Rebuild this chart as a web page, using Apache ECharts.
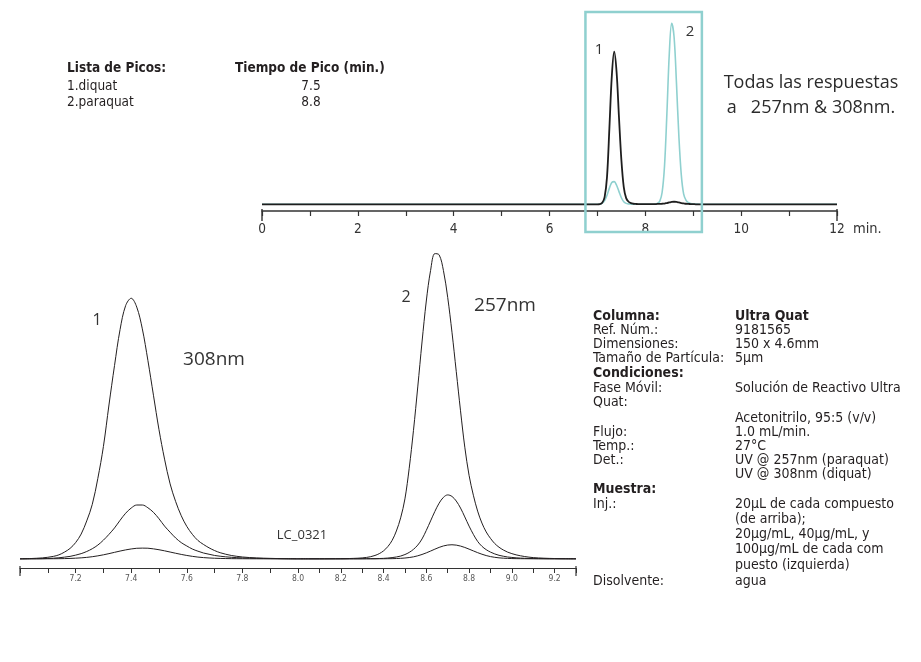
<!DOCTYPE html>
<html>
<head>
<meta charset="utf-8">
<script src="https://cdn.jsdelivr.net/npm/echarts@6.0.0/dist/echarts.min.js"></script>
<style>
  html, body { margin: 0; padding: 0; background: #ffffff; }
  #chart { width: 921px; height: 662px; }
</style>
</head>
<body>
<div id="chart"></div>
<script>
// ---------- Overview run, 0 - 12 min (two detector traces) ----------
const overviewTimes = [
  0, 1, 2, 3, 4, 5, 6, 6.5,
  7.00, 7.05, 7.10, 7.15, 7.20, 7.25, 7.30, 7.35, 7.40, 7.45,
  7.50, 7.55, 7.60, 7.65, 7.70, 7.75, 7.80, 7.85, 7.90, 7.95,
  8.00, 8.05, 8.10, 8.15, 8.20, 8.25, 8.30, 8.35, 8.40, 8.45,
  8.50, 8.55, 8.60, 8.65, 8.70, 8.75, 8.80, 8.85, 8.90, 8.95,
  9.00, 9.05, 9.10, 9.15, 9.20,
  9.5, 10, 11, 12
];
// 308 nm trace (black)
const signal308 = [
  0, 0, 0, 0, 0, 0, 0, 0,
  0, 0.1, 0.8, 4.0, 15.0, 42.0, 70.5, 84.2, 73.0, 48.0,
  24.5, 9.5, 3.4, 1.4, 0.6, 0.3, 0.2, 0.1, 0.1, 0.1,
  0.1, 0.1, 0.1, 0.1, 0.1, 0.2, 0.2, 0.3, 0.4, 0.7,
  1.0, 1.3, 1.4, 1.3, 1.0, 0.7, 0.5, 0.3, 0.2, 0.1,
  0.1, 0, 0, 0, 0,
  0, 0, 0, 0
];
// 257 nm trace (teal)
const signal257 = [
  0, 0, 0, 0, 0, 0, 0, 0,
  0, 0, 0.6, 2.0, 5.0, 8.9, 12.0, 12.5, 10.5, 7.0,
  3.6, 1.4, 0.5, 0.2, 0.1, 0, 0, 0, 0, 0,
  0, 0, 0, 0, 0.1, 0.4, 1.6, 6.5, 21.0, 50.0,
  83.0, 100, 92.3, 66.7, 37.5, 16.4, 5.6, 2.2, 0.9, 0.4,
  0.2, 0.1, 0.1, 0, 0,
  0, 0, 0, 0
];
const overviewTicks = [0, 2, 4, 6, 8, 10, 12];

// ---------- Expanded view, peak 1 (diquat, 308 nm), 7.0 - 8.0 min ----------
const peak1Times = [
  7.00, 7.04, 7.08, 7.10, 7.12, 7.14, 7.16, 7.18, 7.20, 7.22,
  7.24, 7.26, 7.28, 7.30, 7.32, 7.34, 7.36, 7.38, 7.40, 7.42,
  7.44, 7.46, 7.48, 7.50, 7.52, 7.54, 7.56, 7.58, 7.60, 7.62,
  7.64, 7.66, 7.68, 7.70, 7.72, 7.74, 7.76, 7.80, 7.85, 7.90,
  7.95, 8.00
];
const diquat100 = [
  0.0, 0.1, 0.3, 0.5, 0.8, 1.3, 2.2, 3.4, 5.3, 8.1,
  12.4, 17.8, 26.3, 36.7, 50.3, 63.2, 75.0, 82.8, 85.2, 82.3,
  75.2, 64.9, 53.5, 42.2, 32.6, 24.5, 18.7, 14.1, 10.6, 8.0,
  6.0, 4.7, 3.6, 2.7, 2.0, 1.5, 1.1, 0.6, 0.3, 0.15,
  0.05, 0.0
];
const diquat40 = [
  0, 0.02, 0.06, 0.12, 0.2, 0.35, 0.55, 0.8, 1.2, 1.7,
  2.4, 3.3, 4.5, 6.1, 8.0, 10.1, 12.6, 14.9, 16.6, 17.6,
  17.6, 16.7, 15.2, 13.1, 10.7, 8.7, 6.8, 5.3, 4.2, 3.2,
  2.5, 1.9, 1.5, 1.1, 0.85, 0.65, 0.5, 0.3, 0.15, 0.08,
  0.03, 0
];
const diquat20 = [
  0, 0, 0.01, 0.02, 0.03, 0.05, 0.08, 0.13, 0.21, 0.32,
  0.47, 0.69, 0.97, 1.31, 1.70, 2.12, 2.54, 2.92, 3.23, 3.45,
  3.5, 3.47, 3.26, 2.97, 2.62, 2.22, 1.82, 1.44, 1.10, 0.81,
  0.57, 0.40, 0.28, 0.19, 0.13, 0.09, 0.06, 0.03, 0.01, 0,
  0, 0
];

// ---------- Expanded view, peak 2 (paraquat, 257 nm), 8.0 - 9.3 min ----------
const peak2Times = [
  8.00, 8.05, 8.10, 8.15, 8.20, 8.24, 8.28, 8.30, 8.32, 8.34,
  8.36, 8.38, 8.40, 8.42, 8.44, 8.46, 8.48, 8.50, 8.52, 8.54,
  8.56, 8.58, 8.60, 8.62, 8.64, 8.66, 8.68, 8.70, 8.72, 8.74,
  8.76, 8.78, 8.80, 8.82, 8.84, 8.86, 8.88, 8.90, 8.92, 8.94,
  8.96, 8.98, 9.00, 9.02, 9.04, 9.06, 9.08, 9.10, 9.15, 9.20,
  9.25, 9.30
];
const paraquat100 = [
  0, 0, 0, 0.02, 0.05, 0.1, 0.2, 0.3, 0.45, 0.7,
  1.1, 1.7, 2.6, 4.0, 6.0, 9.1, 13.4, 19.6, 29.6, 42.0,
  56.2, 70.9, 84.3, 94.3, 99.8, 99.4, 94.3, 85.5, 74.1, 61.3,
  48.4, 36.5, 27.3, 20.8, 15.6, 11.7, 8.8, 6.7, 5.0, 3.8,
  2.9, 2.2, 1.7, 1.3, 1.0, 0.75, 0.55, 0.4, 0.2, 0.1,
  0.05, 0.02
];
const paraquat40 = [
  0, 0, 0, 0, 0, 0.01, 0.02, 0.03, 0.04, 0.05,
  0.06, 0.1, 0.15, 0.25, 0.4, 0.6, 0.9, 1.4, 2.1, 3.1,
  4.5, 6.5, 9.3, 12.4, 15.5, 18.2, 20.1, 20.9, 20.4, 18.9,
  16.6, 13.7, 10.7, 8.0, 5.7, 4.1, 3.0, 2.2, 1.6, 1.15,
  0.85, 0.6, 0.45, 0.33, 0.24, 0.17, 0.12, 0.09, 0.04, 0.02,
  0.01, 0
];
const paraquat20 = [
  0, 0, 0, 0, 0, 0, 0, 0, 0.01, 0.01,
  0.01, 0.02, 0.02, 0.04, 0.06, 0.1, 0.16, 0.26, 0.42, 0.65,
  0.99, 1.42, 1.95, 2.54, 3.16, 3.74, 4.21, 4.51, 4.6, 4.48,
  4.17, 3.72, 3.17, 2.59, 2.02, 1.51, 1.07, 0.73, 0.49, 0.32,
  0.21, 0.14, 0.09, 0.06, 0.04, 0.03, 0.02, 0.02, 0.01, 0,
  0, 0
];

// Peak table
const peakNames = ['1.diquat', '2.paraquat'];
const peakTimes = ['7.5', '8.8'];

// Method details: [label, value, bold]
const methodRows = [
  ['Columna:', 'Ultra Quat', true],
  ['Ref. Núm.:', '9181565', false],
  ['Dimensiones:', '150 x 4.6mm', false],
  ['Tamaño de Partícula:', '5μm', false],
  ['Condiciones:', '', true],
  ['Fase Móvil:', 'Solución de Reactivo Ultra', false],
  ['Quat:', '', false],
  ['', 'Acetonitrilo, 95:5 (v/v)', false],
  ['Flujo:', '1.0 mL/min.', false],
  ['Temp.:', '27°C', false],
  ['Det.:', 'UV @ 257nm (paraquat)', false],
  ['', 'UV @ 308nm (diquat)', false],
  ['Muestra:', '', true],
  ['Inj.:', '20μL de cada compuesto', false],
  ['', '(de arriba);', false],
  ['', '20μg/mL, 40μg/mL, y', false],
  ['', '100μg/mL de cada com', false],
  ['', 'puesto (izquierda)', false],
  ['Disolvente:', 'agua', false]
];
const methodRowY = [316, 330, 344, 358, 373, 388, 402, 418, 432, 446, 460, 474, 489, 504, 519, 534, 549, 565, 581];

// ---------- styling ----------
const NARROW = "'Liberation Sans Narrow','DejaVu Sans Condensed','Roboto Condensed',sans-serif";
const HUMAN = "'Open Sans','Noto Sans',sans-serif";
const INK = '#231f20';
const TEAL = '#8fd0cf';

const zip = (xs, ys) => xs.map((x, i) => [x, ys[i]]);

function traceSeries(name, xi, yi, times, values, color, width, z) {
  return {
    name, type: 'line', xAxisIndex: xi, yAxisIndex: yi,
    data: zip(times, values),
    showSymbol: false, symbol: 'none', smooth: 0.35,
    lineStyle: { color, width }, z: z || 2,
    silent: true, animation: false
  };
}

const chart = echarts.init(document.getElementById('chart'), null, { renderer: 'canvas' });

const zoomLabel = v => {
  const k = Math.round(v * 10);
  return (k % 2 === 0 && k > 70 && k < 93) ? (k / 10).toFixed(1) : '';
};

const option = {
  backgroundColor: '#ffffff',
  animation: false,
  grid: [
    { left: 262, right: 84, top: 23, bottom: 451 },
    { left: 20, width: 278, top: 253, bottom: 94 },
    { left: 298, width: 278, top: 253, bottom: 94 }
  ],
  xAxis: [
    {
      type: 'value', gridIndex: 0, min: 0, max: 12, interval: 1,
      axisLine: { onZero: false, lineStyle: { color: '#333', width: 1.5 } },
      axisTick: { length: 5, lineStyle: { color: '#333', width: 1.2 } },
      axisLabel: {
        margin: 11, color: '#333', fontSize: 13.5, fontFamily: NARROW,
        formatter: v => overviewTicks.indexOf(v) >= 0 ? String(v) : ''
      },
      splitLine: { show: false }
    },
    {
      type: 'value', gridIndex: 1, min: 7.0, max: 8.0, interval: 0.1,
      axisLine: { onZero: false, lineStyle: { color: '#333', width: 1.2 } },
      axisTick: { length: 5, lineStyle: { color: '#333', width: 1 } },
      axisLabel: { margin: 6, color: '#555', fontSize: 8.5, fontFamily: NARROW, formatter: zoomLabel, showMinLabel: true, showMaxLabel: true },
      splitLine: { show: false }
    },
    {
      type: 'value', gridIndex: 2, min: 8.0, max: 9.3, interval: 0.1,
      axisLine: { onZero: false, lineStyle: { color: '#333', width: 1.2 } },
      axisTick: { length: 5, lineStyle: { color: '#333', width: 1 } },
      axisLabel: {
        margin: 6, color: '#555', fontSize: 8.5, fontFamily: NARROW,
        formatter: v => (Math.round(v * 10) === 80 ? '' : zoomLabel(v))
      },
      splitLine: { show: false }
    }
  ],
  yAxis: [
    { type: 'value', gridIndex: 0, min: -3.7, max: 100, show: false },
    { type: 'value', gridIndex: 1, min: -3, max: 100, show: false },
    { type: 'value', gridIndex: 2, min: -3, max: 100, show: false }
  ],
  series: [
    traceSeries('257 nm', 0, 0, overviewTimes, signal257, TEAL, 1.6, 2),
    traceSeries('308 nm', 0, 0, overviewTimes, signal308, '#1e1e1e', 1.8, 3),
    traceSeries('diquat 100', 1, 1, peak1Times, diquat100, INK, 1),
    traceSeries('diquat 40', 1, 1, peak1Times, diquat40, INK, 1),
    traceSeries('diquat 20', 1, 1, peak1Times, diquat20, INK, 1),
    traceSeries('paraquat 100', 2, 2, peak2Times, paraquat100, INK, 1),
    traceSeries('paraquat 40', 2, 2, peak2Times, paraquat40, INK, 1),
    traceSeries('paraquat 20', 2, 2, peak2Times, paraquat20, INK, 1)
  ]
};
chart.setOption(option);

// ---------- annotations ----------
function txt(x, y, text, opts) {
  opts = opts || {};
  return {
    type: 'text', x, y, silent: true,
    style: {
      text,
      fill: opts.fill || INK,
      font: opts.font || ('13px ' + NARROW),
      textAlign: opts.align || 'left',
      textVerticalAlign: 'middle'
    }
  };
}
function seg(x1, y1, x2, y2, w) {
  return {
    type: 'line', silent: true,
    shape: { x1, y1, x2, y2 },
    style: { stroke: '#333', lineWidth: w || 1.2 }
  };
}

const els = [];

// highlight frame around the two peaks of the overview run
const boxL = chart.convertToPixel({ xAxisIndex: 0 }, 6.75);
const boxR = chart.convertToPixel({ xAxisIndex: 0 }, 9.18);
els.push({
  type: 'rect', silent: true,
  shape: { x: boxL, y: 12, width: boxR - boxL, height: 220 },
  style: { fill: 'none', stroke: TEAL, lineWidth: 2.5 },
  z: 10
});

// longer end ticks on both time axes
const topAxisY = 662 - 451;
const zoomAxisY = 662 - 94;
[0, 12].forEach(t => {
  const px = chart.convertToPixel({ xAxisIndex: 0 }, t);
  els.push(seg(px, topAxisY - 2, px, topAxisY + 10, 1.4));
});
els.push((() => { const px = chart.convertToPixel({ xAxisIndex: 1 }, 7.0); return seg(px, zoomAxisY - 2, px, zoomAxisY + 8, 1.2); })());
els.push((() => { const px = chart.convertToPixel({ xAxisIndex: 2 }, 9.3); return seg(px, zoomAxisY - 2, px, zoomAxisY + 8, 1.2); })());

// peak table
els.push(txt(67, 68, 'Lista de Picos:', { font: 'bold 13.5px ' + NARROW }));
els.push(txt(235, 68, 'Tiempo de Pico (min.)', { font: 'bold 13.5px ' + NARROW }));
peakNames.forEach((n, i) => {
  els.push(txt(67, 86 + 16.5 * i, n, { font: '13.5px ' + NARROW }));
  els.push(txt(311, 86 + 16.5 * i, peakTimes[i], { font: '13.5px ' + NARROW, align: 'center' }));
});

// overview annotations
els.push(txt(599, 50, '1', { font: '15px ' + HUMAN, fill: '#333', align: 'center' }));
els.push(txt(690, 32, '2', { font: '15px ' + HUMAN, fill: '#333', align: 'center' }));
els.push(txt(811, 83, 'Todas las respuestas', { font: '18px ' + HUMAN, fill: '#2b2b2b', align: 'center' }));
els.push(txt(811, 108, 'a   257nm & 308nm.', { font: '18px ' + HUMAN, fill: '#2b2b2b', align: 'center' }));
els.push(txt(853, 229, 'min.', { font: '14.5px ' + NARROW, fill: '#333' }));

// expanded view annotations
els.push(txt(97, 320, '1', { font: '16px ' + HUMAN, fill: '#333', align: 'center' }));
els.push(txt(214, 360, '308nm', { font: '19px ' + HUMAN, fill: '#333', align: 'center' }));
els.push(txt(406, 297, '2', { font: '16px ' + HUMAN, fill: '#333', align: 'center' }));
els.push(txt(505, 306, '257nm', { font: '19px ' + HUMAN, fill: '#333', align: 'center' }));
els.push(txt(302, 535, 'LC_0321', { font: '13px ' + HUMAN, fill: '#333', align: 'center' }));

// method details
methodRows.forEach((r, i) => {
  const f = (r[2] ? 'bold ' : '') + '14px ' + NARROW;
  if (r[0]) els.push(txt(593, methodRowY[i], r[0], { font: f }));
  if (r[1]) els.push(txt(735, methodRowY[i], r[1], { font: f }));
});

chart.setOption({ graphic: { elements: els } });
</script>
</body>
</html>
